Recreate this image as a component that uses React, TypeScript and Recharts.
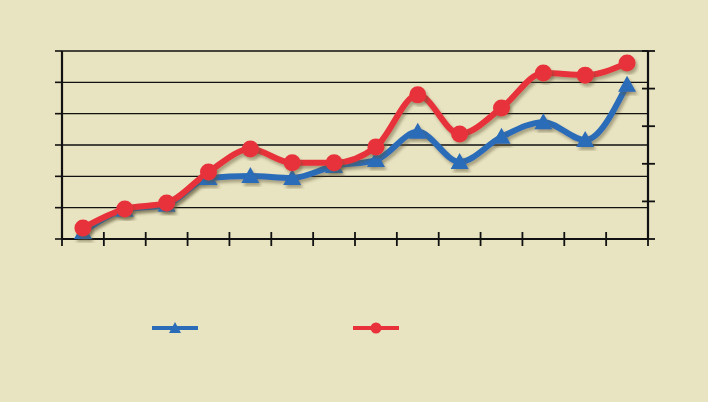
import { LineChart, Line, XAxis, YAxis, CartesianGrid, Legend } from 'recharts'

const periods = ['1', '2', '3', '4', '5', '6', '7', '8', '9', '10', '11', '12', '13', '14']
const blueValues = [0.22, 0.93, 1.09, 1.95, 2.01, 1.95, 2.33, 2.52, 3.42, 2.46, 3.26, 3.73, 3.16, 4.92]
const redValues = [0.35, 0.96, 1.15, 2.14, 2.87, 2.43, 2.43, 2.94, 4.6, 3.35, 4.18, 5.3, 5.23, 5.62]
const leftTicks = [0, 1, 2, 3, 4, 5, 6]
const rightTicks = [0, 1, 2, 3, 4, 5]
const xTicks = [0, 1, 2, 3, 4, 5, 6, 7, 8, 9, 10, 11, 12, 13, 14]

const data = periods.map((p, i) => ({
  period: p,
  pos: i + 0.5,
  blue: blueValues[i],
  red: redValues[i],
}))

const BLUE = '#2b6cb8'
const RED = '#e8313a'
const BG = '#e8e3c1'
const INK = '#111'

const noTick = () => <g />

// x ticks cross the axis line: drawn from the tick label anchor upwards
const crossTick = (props: any) => {
  const { x, y } = props
  return <line x1={x} x2={x} y1={y - 14} y2={y} stroke={INK} strokeWidth={1.8} />
}

// right ticks also cross the axis slightly
const rightTick = (props: any) => {
  const { x, y } = props
  return <line x1={x - 13} x2={x} y1={y} y2={y} stroke={INK} strokeWidth={1.8} />
}

const Triangle = (props: any) => {
  const { cx, cy } = props
  if (cx == null || cy == null) return <g />
  return (
    <path
      d={`M${cx},${cy - 9} L${cx + 9},${cy + 7} L${cx - 9},${cy + 7} Z`}
      fill={BLUE}
      filter="url(#shadow)"
    />
  )
}

const Circle = (props: any) => {
  const { cx, cy } = props
  if (cx == null || cy == null) return <g />
  return <circle cx={cx} cy={cy} r={8.5} fill={RED} filter="url(#shadow)" />
}

const LegendBox = () => (
  <svg width={708} height={24} style={{ display: 'block' }}>
    <line x1={152} x2={198} y1={10} y2={10} stroke={BLUE} strokeWidth={4} />
    <path d="M175,4 L181,15 L169,15 Z" fill={BLUE} />
    <line x1={353} x2={399} y1={10} y2={10} stroke={RED} strokeWidth={4} />
    <circle cx={376} cy={10} r={5.5} fill={RED} />
  </svg>
)

const tickStyle = { stroke: INK, strokeWidth: 1.6 }
const axisStyle = { stroke: INK, strokeWidth: 2.2 }

export default function App() {
  return (
    <div style={{ position: 'fixed', left: 0, top: 0, width: 708, height: 402, background: BG }}>
      <LineChart
        width={708}
        height={402}
        data={data}
        margin={{ top: 51, right: 52, left: 54, bottom: 143 }}
      >
        <defs>
          <filter id="shadow" x="-20%" y="-20%" width="140%" height="140%">
            <feDropShadow dx={2} dy={3} stdDeviation={1.5} floodColor="#5a5530" floodOpacity={0.45} />
          </filter>
        </defs>
        <CartesianGrid vertical={false} stroke={INK} strokeWidth={1.4} yAxisId="left" />
        <XAxis
          dataKey="pos"
          type="number"
          domain={[0, 14]}
          ticks={xTicks}
          tick={crossTick}
          tickLine={false}
          tickSize={7}
          tickMargin={0}
          stroke={INK}
          axisLine={axisStyle}
          height={20}
        />
        <YAxis
          yAxisId="left"
          domain={[0, 6]}
          ticks={leftTicks}
          tick={noTick}
          tickLine={tickStyle}
          tickSize={7}
          stroke={INK}
          axisLine={axisStyle}
          width={8}
        />
        <YAxis
          yAxisId="right"
          orientation="right"
          type="number"
          domain={[0, 5]}
          allowDataOverflow
          ticks={rightTicks}
          tick={rightTick}
          tickLine={false}
          tickSize={7}
          tickMargin={0}
          stroke={INK}
          axisLine={axisStyle}
          width={8}
        />
        <Legend
          verticalAlign="middle"
          layout="horizontal"
          content={LegendBox}
          wrapperStyle={{ top: 318, left: 0, width: 708 }}
        />
        {/* invisible copy so the right axis has a series and draws its ticks */}
        <Line
          yAxisId="right"
          dataKey="red"
          stroke="none"
          dot={false}
          activeDot={false}
          legendType="none"
          isAnimationActive={false}
        />
        <Line
          yAxisId="left"
          type="monotone"
          dataKey="blue"
          stroke={BLUE}
          strokeWidth={6}
          dot={<Triangle />}
          activeDot={false}
          filter="url(#shadow)"
          isAnimationActive={false}
        />
        <Line
          yAxisId="left"
          type="monotone"
          dataKey="red"
          stroke={RED}
          strokeWidth={6}
          dot={<Circle />}
          activeDot={false}
          filter="url(#shadow)"
          isAnimationActive={false}
        />
      </LineChart>
    </div>
  )
}
